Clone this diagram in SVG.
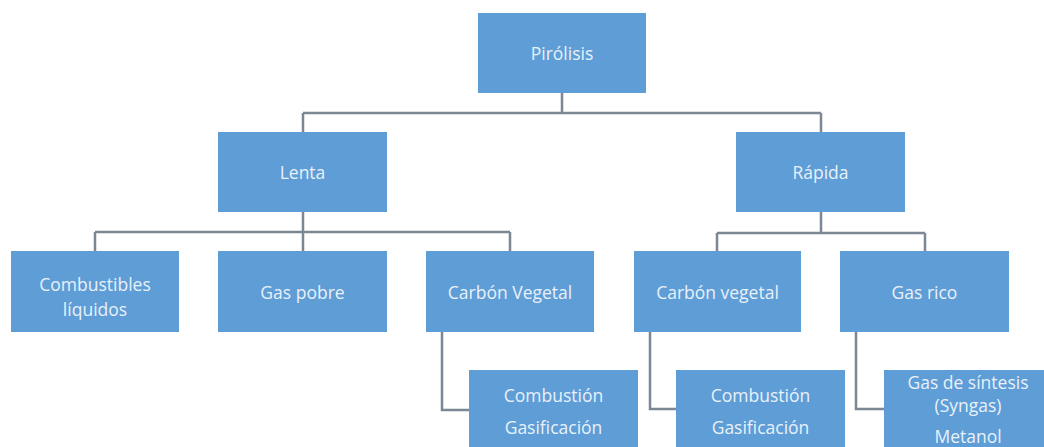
<svg xmlns="http://www.w3.org/2000/svg" width="1044" height="447" viewBox="0 0 1044 447">
<style>
.box{fill:#5f9dd6;}
.lbl{font-family:"Open Sans","Noto Sans","Liberation Sans",sans-serif;font-size:17.5px;fill:#e8f1fa;text-anchor:middle;dominant-baseline:central;}
.con{fill:none;stroke:#7b8795;stroke-width:2.5;}
</style>
<rect width="1044" height="447" fill="#ffffff"/>
<g id="connectors">
<path class="con" d="M562 93V113M303 113H821M303 113V132M821 113V132"/>
<path class="con" d="M303 212V251M95 232H510M95 232V251M510 232V251"/>
<path class="con" d="M821 212V233M717 233H925M717 233V251M925 233V251"/>
<path class="con" d="M442 332V410H469"/>
<path class="con" d="M650 332V409H676"/>
<path class="con" d="M856 332V409H884"/>
</g>
<g id="pirolisis"><rect class="box" x="478" y="13" width="168" height="80"/><text class="lbl" x="562" y="53">Pirólisis</text></g>
<g id="lenta"><rect class="box" x="218" y="132" width="169" height="80"/><text class="lbl" x="302.5" y="172">Lenta</text></g>
<g id="rapida"><rect class="box" x="736" y="132" width="169" height="80"/><text class="lbl" x="820.5" y="172">Rápida</text></g>
<g id="combustibles"><rect class="box" x="11" y="251" width="168" height="81"/><text class="lbl" x="95" y="284">Combustibles</text><text class="lbl" x="95" y="309">líquidos</text></g>
<g id="gaspobre"><rect class="box" x="218" y="251" width="169" height="81"/><text class="lbl" x="302.5" y="292">Gas pobre</text></g>
<g id="carbonVegetal"><rect class="box" x="426" y="251" width="168" height="81"/><text class="lbl" x="510" y="292">Carbón Vegetal</text></g>
<g id="carbonvegetal2"><rect class="box" x="634" y="251" width="167" height="81"/><text class="lbl" x="717.5" y="292">Carbón vegetal</text></g>
<g id="gasrico"><rect class="box" x="840" y="251" width="169" height="81"/><text class="lbl" x="924.5" y="292">Gas rico</text></g>
<g id="combgas1"><rect class="box" x="469" y="370" width="169" height="90"/><text class="lbl" x="553.5" y="395">Combustión</text><text class="lbl" x="553.5" y="427">Gasificación</text></g>
<g id="combgas2"><rect class="box" x="676" y="370" width="169" height="90"/><text class="lbl" x="760.5" y="395">Combustión</text><text class="lbl" x="760.5" y="427">Gasificación</text></g>
<g id="syngas"><rect class="box" x="884" y="370" width="170" height="90"/><text class="lbl" x="968" y="382">Gas de síntesis</text><text class="lbl" x="968" y="405">(Syngas)</text><text class="lbl" x="968" y="436">Metanol</text></g>
</svg>
